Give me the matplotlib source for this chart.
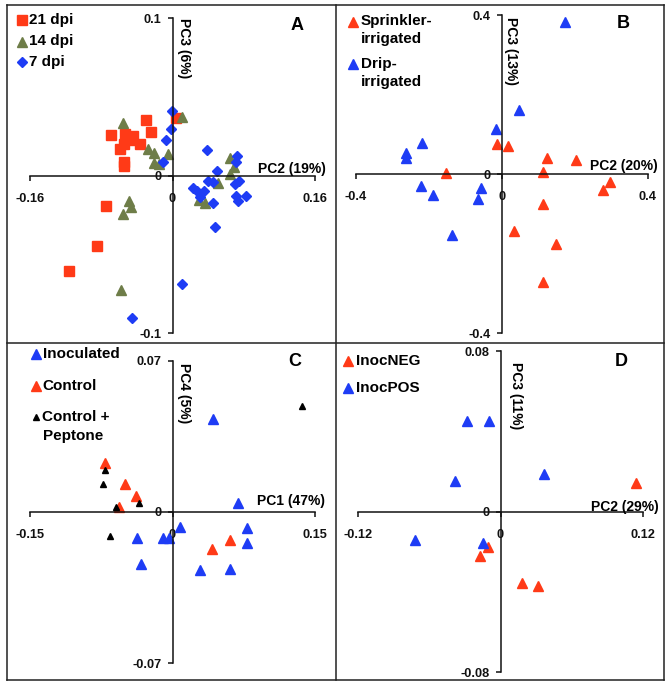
import matplotlib
matplotlib.use("Agg")
import matplotlib.pyplot as plt
from matplotlib.lines import Line2D

plt.rcParams['font.family'] = ['Liberation Sans', 'DejaVu Sans']
plt.rcParams['font.weight'] = 'bold'

W, H = 672, 688
RED = '#FF3A17'
GREEN = '#6E7D48'
BLUE = '#1E3CF5'
BLACK = '#000000'

# ---------------- data ----------------
# Panel A: PC2 vs PC3
a21_x = [0.0037, -0.030, -0.024, -0.069, -0.053, -0.044, -0.054, -0.036, -0.059, -0.055, -0.055, -0.075, -0.085, -0.116, -0.047]
a21_y = [0.0368, 0.0352, 0.028, 0.0259, 0.0267, 0.0253, 0.020, 0.020, 0.0168, 0.0088, 0.0063, -0.019, -0.0446, -0.0606, 0.023]
a14_x = [0.0112, -0.0557, -0.0277, -0.0206, -0.0213, -0.0146, -0.0045, 0.064, 0.0695, 0.0647, 0.0516, 0.030, 0.0366, -0.0486, -0.0464, -0.0557, -0.0576]
a14_y = [0.0375, 0.0333, 0.0168, 0.0143, 0.0084, 0.0074, 0.0137, 0.011, 0.0053, 0.001, -0.0048, -0.0154, -0.0175, -0.0162, -0.020, -0.0242, -0.0726]
a7_x = [-0.0007, -0.0015, -0.0075, -0.0108, 0.0385, 0.0497, 0.0404, 0.046, 0.0721, 0.071, 0.0751, 0.0703, 0.0228, 0.0273, 0.0355, 0.031, 0.071, 0.0733, 0.0822, 0.046, 0.0478, 0.0112, -0.0456]
a7_y = [0.041, 0.0295, 0.0225, 0.009, 0.0162, 0.0032, -0.0032, -0.0038, 0.0126, 0.0088, -0.0032, -0.0053, -0.008, -0.0099, -0.0099, -0.0133, -0.0126, -0.0158, -0.013, -0.0173, -0.0322, -0.0688, -0.0905]

# Panel B: PC2 vs PC3
b_spr_x = [-0.0136, 0.0181, -0.1538, 0.1122, 0.124, 0.2036, 0.2959, 0.2778, 0.1122, 0.0335, 0.1484, 0.1131]
b_spr_y = [0.0747, 0.0697, 0.0017, 0.0041, 0.039, 0.0349, -0.0199, -0.039, -0.0755, -0.1436, -0.1768, -0.2705]
b_drip_x = [0.1738, 0.047, -0.0163, -0.218, -0.2624, -0.2624, -0.2226, -0.19, -0.057, -0.066, -0.1357]
b_drip_y = [0.3817, 0.161, 0.112, 0.078, 0.0531, 0.039, -0.0299, -0.0523, -0.0357, -0.063, -0.1535]

# Panel C: PC1 vs PC4
c_inoc_x = [0.0431, 0.0687, 0.0081, 0.0789, 0.0789, -0.0095, -0.0035, -0.0375, -0.0333, 0.0291, 0.0606]
c_inoc_y = [0.0428, 0.0042, -0.007, -0.0074, -0.0142, -0.012, -0.012, -0.012, -0.024, -0.027, -0.0266]
c_ctrl_x = [-0.0715, -0.0498, -0.0382, -0.0568, 0.0606, 0.042]
c_ctrl_y = [0.0227, 0.0127, 0.0074, 0.0023, -0.0131, -0.0173]
c_pep_x = [0.136, -0.0708, -0.0733, -0.0592, -0.035, -0.0655]
c_pep_y = [0.0491, 0.0196, 0.0128, 0.0023, 0.0039, -0.0111]

# Panel D: PC2 vs PC3
d_neg_x = [0.1144, -0.0107, -0.0171, 0.018, 0.0315]
d_neg_y = [0.0146, -0.0174, -0.022, -0.0356, -0.0369]
d_pos_x = [-0.0281, -0.0098, -0.0388, 0.0371, -0.0725, -0.0149]
d_pos_y = [0.0452, 0.0452, 0.0152, 0.019, -0.0141, -0.0154]

# ---------------- helpers ----------------
fig = plt.figure(figsize=(W / 100, H / 100), dpi=100)


def fx(x):
    return x / W


def fy(y):
    return 1 - y / H


def make_axes(xpix, ypix, xr, yr, xlabels, ylabels):
    x0, x1 = xpix
    yt, yb = ypix
    ax = fig.add_axes([fx(x0), fy(yb), (x1 - x0) / W, (yb - yt) / H])
    ax.set_xlim(-xr, xr)
    ax.set_ylim(-yr, yr)
    ax.patch.set_alpha(0)
    for s in ('top', 'right'):
        ax.spines[s].set_visible(False)
    ax.spines['left'].set_position('zero')
    ax.spines['bottom'].set_position('zero')
    for s in ('left', 'bottom'):
        ax.spines[s].set_linewidth(1.1)
        ax.spines[s].set_color('#111111')
    ax.set_xticks([-xr, 0, xr])
    ax.set_xticklabels(xlabels)
    ax.set_yticks([-yr, 0, yr])
    ax.set_yticklabels(ylabels)
    ax.tick_params(axis='x', direction='out', length=3.5, width=1.1, pad=9, labelsize=9.2, colors='#111111')
    ax.tick_params(axis='y', direction='out', length=3.5, width=1.1, pad=4.5, labelsize=9.2, colors='#111111')
    for lab in ax.get_xticklabels() + ax.get_yticklabels():
        lab.set_fontweight('bold')
    return ax


def legend_item(xm, y, text, marker, color, ms, xt):
    fig.add_artist(Line2D([fx(xm)], [fy(y)], marker=marker, color=color, markersize=ms,
                          linestyle='none', transform=fig.transFigure))
    fig.text(fx(xt), fy(y), text, fontsize=11, fontweight='bold', va='center', ha='left')


# ---------------- Panel A ----------------
axA = make_axes((30, 315), (18.3, 333.3), 0.16, 0.1, ['-0.16', '0', '0.16'], ['-0.1', '0', '0.1'])
axA.plot(a21_x, a21_y, 's', color=RED, markersize=7.2, linestyle='none', clip_on=False)
axA.plot(a14_x, a14_y, '^', color=GREEN, markersize=7.5, linestyle='none', clip_on=False)
axA.plot(a7_x, a7_y, 'D', color=BLUE, markersize=5.5, linestyle='none', clip_on=False)
legend_item(22, 20, '21 dpi', 's', RED, 7, 29)
legend_item(22, 41.5, '14 dpi', '^', GREEN, 7.5, 29)
legend_item(22, 62, '7 dpi', 'D', BLUE, 5.2, 29)
fig.text(fx(326), fy(169), 'PC2 (19%)', fontsize=10, fontweight='bold', ha='right', va='center')
fig.text(fx(184), fy(18), 'PC3 (6%)', fontsize=10, fontweight='bold', ha='center', va='top', rotation=270)
fig.text(fx(297), fy(25), 'A', fontsize=13, fontweight='bold', ha='center', va='center')

# ---------------- Panel B ----------------
axB = make_axes((356, 647.7), (15, 333), 0.4, 0.4, ['-0.4', '0', '0.4'], ['-0.4', '0', '0.4'])
axB.plot(b_spr_x, b_spr_y, '^', color=RED, markersize=7.3, linestyle='none', clip_on=False)
axB.plot(b_drip_x, b_drip_y, '^', color=BLUE, markersize=7.3, linestyle='none', clip_on=False)
legend_item(353, 21.5, 'Sprinkler-', '^', RED, 6.5, 361)
fig.text(fx(361), fy(39.5), 'irrigated', fontsize=11, fontweight='bold', va='center', ha='left')
legend_item(353, 64, 'Drip-', '^', BLUE, 6.5, 361)
fig.text(fx(361), fy(82), 'irrigated', fontsize=11, fontweight='bold', va='center', ha='left')
fig.text(fx(658), fy(166), 'PC2 (20%)', fontsize=10, fontweight='bold', ha='right', va='center')
fig.text(fx(511), fy(17), 'PC3 (13%)', fontsize=10, fontweight='bold', ha='center', va='top', rotation=270)
fig.text(fx(623), fy(24), 'B', fontsize=13, fontweight='bold', ha='center', va='center')

# ---------------- Panel C ----------------
axC = make_axes((30, 315), (360.7, 663), 0.15, 0.07, ['-0.15', '0', '0.15'], ['-0.07', '0', '0.07'])
axC.plot(c_inoc_x, c_inoc_y, '^', color=BLUE, markersize=7.3, linestyle='none', clip_on=False)
axC.plot(c_ctrl_x, c_ctrl_y, '^', color=RED, markersize=7.3, linestyle='none', clip_on=False)
axC.plot(c_pep_x, c_pep_y, '^', color=BLACK, markersize=5, linestyle='none', clip_on=False)
legend_item(36, 354, 'Inoculated', '^', BLUE, 6.5, 42.5)
legend_item(36, 386, 'Control', '^', RED, 6.5, 42.5)
legend_item(36, 417, 'Control +', '^', BLACK, 5, 42.5)
fig.text(fx(42.5), fy(436), 'Peptone', fontsize=11, fontweight='bold', va='center', ha='left')
fig.text(fx(325), fy(501), 'PC1 (47%)', fontsize=10, fontweight='bold', ha='right', va='center')
fig.text(fx(184), fy(363), 'PC4 (5%)', fontsize=10, fontweight='bold', ha='center', va='top', rotation=270)
fig.text(fx(295), fy(361), 'C', fontsize=13, fontweight='bold', ha='center', va='center')

# ---------------- Panel D ----------------
axD = make_axes((358.3, 642.7), (351.3, 672.3), 0.12, 0.08, ['-0.12', '0', '0.12'], ['-0.08', '0', '0.08'])
axD.plot(d_neg_x, d_neg_y, '^', color=RED, markersize=7.3, linestyle='none', clip_on=False)
axD.plot(d_pos_x, d_pos_y, '^', color=BLUE, markersize=7.3, linestyle='none', clip_on=False)
legend_item(348, 360.7, 'InocNEG', '^', RED, 6.5, 356.5)
legend_item(348, 388, 'InocPOS', '^', BLUE, 6.5, 356.5)
fig.text(fx(659), fy(507), 'PC2 (29%)', fontsize=10, fontweight='bold', ha='right', va='center')
fig.text(fx(516), fy(362), 'PC3 (11%)', fontsize=10, fontweight='bold', ha='center', va='top', rotation=270)
fig.text(fx(621), fy(361), 'D', fontsize=13, fontweight='bold', ha='center', va='center')

# ---------------- panel frames ----------------
frame_kw = dict(transform=fig.transFigure, color='#222222', linewidth=1.1)
L, R, T, B = 7, 664, 5, 680
MX, MY = 336, 343
for (xa, ya, xb, yb) in [(L, T, R, T), (L, B, R, B), (L, T, L, B), (R, T, R, B), (MX, T, MX, B), (L, MY, R, MY)]:
    fig.add_artist(Line2D([fx(xa), fx(xb)], [fy(ya), fy(yb)], **frame_kw))

fig.savefig('out.png', dpi=100)
